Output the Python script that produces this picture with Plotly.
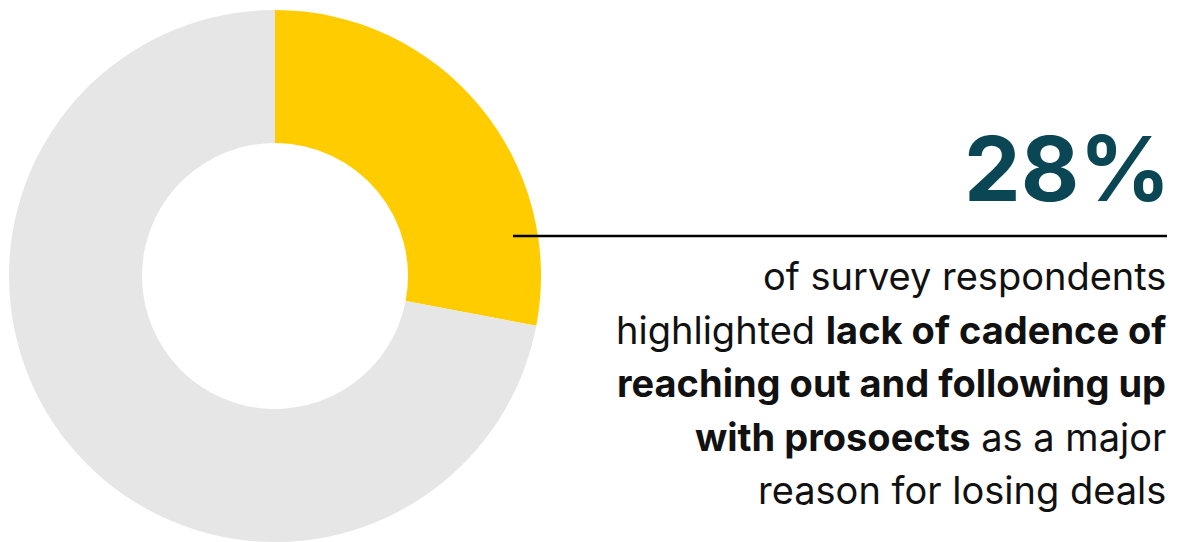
import plotly.graph_objects as go

W, H = 1177, 542

# Survey share values
labels = ["Lack of cadence", "Other reasons"]
values = [28, 72]
colors = ["#FFCC00", "#E6E6E6"]

headline = "28%"
body_lines = [
    "of survey respondents",
    "highlighted <b>lack of cadence of</b>",
    "<b>reaching out and following up</b>",
    "<b>with prosoects</b> as a major",
    "reason for losing deals",
]

FONT = "Inter"

fig = go.Figure()
fig.add_trace(go.Pie(
    labels=labels,
    values=values,
    hole=0.5,
    sort=False,
    direction="clockwise",
    rotation=0,
    marker=dict(colors=colors, line=dict(width=0)),
    textinfo="none",
    hoverinfo="label+percent",
    showlegend=False,
    domain=dict(x=[8.5 / W, 541.5 / W], y=[0, 1 - 10 / H]),
))


def py(px):
    return 1 - px / H


fig.add_annotation(
    x=1173 / W, y=py(168), xref="paper", yref="paper",
    xanchor="right", yanchor="middle", showarrow=False,
    text=f"<b>{headline}</b>",
    font=dict(family=FONT, size=90, color="#0B4655"),
)

fig.add_shape(
    type="line", xref="paper", yref="paper",
    x0=513 / W, x1=1167 / W, y0=py(236), y1=py(236),
    line=dict(color="#000000", width=2.5),
)

for i, line in enumerate(body_lines):
    fig.add_annotation(
        x=1168 / W, y=py(276 + 53.5 * i), xref="paper", yref="paper",
        xanchor="right", yanchor="middle", showarrow=False,
        text=line, align="right",
        font=dict(family=FONT, size=38, color="#111111"),
    )

fig.update_layout(
    width=W, height=H,
    margin=dict(l=0, r=0, t=0, b=0),
    paper_bgcolor="white", plot_bgcolor="white",
)

fig.write_html("out.html")
